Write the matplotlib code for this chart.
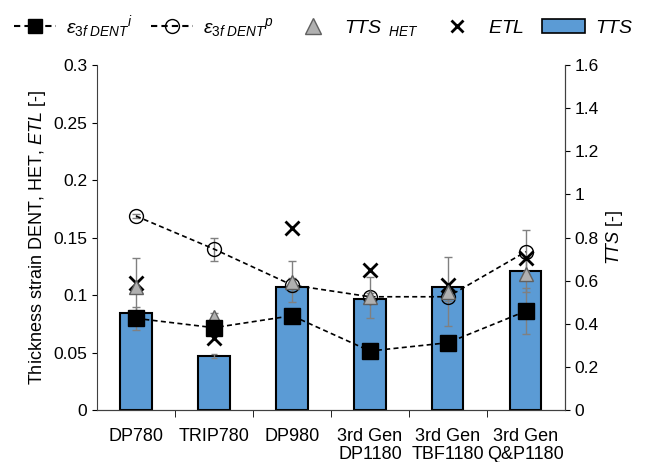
import numpy as np
import matplotlib
matplotlib.use("Agg")
import matplotlib.pyplot as plt
from matplotlib.ticker import FuncFormatter
from matplotlib.lines import Line2D
from matplotlib.patches import Patch

plt.rcParams['font.family'] = ['Liberation Sans', 'DejaVu Sans']
plt.rcParams['mathtext.fontset'] = 'custom'
plt.rcParams['mathtext.rm'] = 'Liberation Sans'
plt.rcParams['mathtext.it'] = 'Liberation Sans:italic'
plt.rcParams['font.size'] = 12.5

# data
materials = ['DP780', 'TRIP780', 'DP980', '3rd Gen\nDP1180', '3rd Gen\nTBF1180', '3rd Gen\nQ&P1180']
tts = [0.451, 0.250, 0.569, 0.515, 0.572, 0.645]
tts_err = [0.0, 0.010, 0.0, 0.0, 0.0, 0.0]
eps_i = [0.0797, 0.0716, 0.082, 0.0513, 0.0585, 0.086]
eps_i_err = [0.010, 0.004, 0.006, 0.002, 0.003, 0.020]
eps_p = [0.1687, 0.140, 0.1087, 0.0985, 0.0985, 0.1377]
eps_p_err = [0.002, 0.010, 0.006, 0.003, 0.004, 0.019]
tts_het = [0.107, 0.081, 0.1116, 0.098, 0.103, 0.118]
tts_het_err = [0.025, 0.003, 0.018, 0.018, 0.030, 0.015]
etl = [0.1107, 0.063, 0.158, 0.1217, 0.109, 0.132]

x = np.arange(len(materials))
ecol = '#808080'

fig = plt.figure(figsize=(6.47, 4.62), dpi=100)
ax = fig.add_axes([0.15, 0.1126, 0.723, 0.7464])
ax2 = ax.twinx()

# bars on right axis
ax2.bar(x, tts, width=0.4, color='#5b9bd5', edgecolor='black', linewidth=1.5,
        yerr=tts_err, error_kw=dict(ecolor=ecol, capsize=2, elinewidth=1), zorder=1)
ax2.set_ylim(0, 1.6)
ax2.set_yticks(np.arange(0, 1.61, 0.2))
ax2.set_ylabel('$TTS$ [-]', fontsize=13, labelpad=4)

ax.set_zorder(ax2.get_zorder() + 1)
ax.patch.set_visible(False)

ax.errorbar(x, eps_p, yerr=eps_p_err, fmt='o--', color='black', mfc='none', mec='black',
            ms=10, mew=1, lw=1.2, ecolor=ecol, capsize=3, elinewidth=1, dashes=(3, 2))
ax.errorbar(x, tts_het, yerr=tts_het_err, fmt='^', color='#b0b0b0', mec='#606060',
            ms=10, ecolor=ecol, capsize=3, elinewidth=1)
ax.plot(x, etl, 'x', color='black', ms=10, mew=2)
ax.errorbar(x, eps_i, yerr=eps_i_err, fmt='s--', color='black', ms=11, lw=1.2,
            ecolor=ecol, capsize=3, elinewidth=1, dashes=(3, 2))

ax.set_ylim(0, 0.3)
ax.set_xlim(-0.5, len(materials) - 0.5)
ax.set_yticks(np.arange(0, 0.301, 0.05))
ax.set_ylabel('Thickness strain DENT, HET, $ETL$ [-]', fontsize=13)
ax.set_xticks(x)
ax.set_xticklabels(materials, linespacing=1.1, fontsize=13)
ax.tick_params(axis='x', length=0, pad=13)
ax.set_xticks(np.arange(0.5, len(materials) - 1, 1), minor=True)
ax.tick_params(axis='x', which='minor', length=5, direction='out')

fmt = FuncFormatter(lambda v, p: f'{v:g}')
ax.yaxis.set_major_formatter(fmt)
ax2.yaxis.set_major_formatter(fmt)

for a in (ax, ax2):
    a.spines['top'].set_visible(False)
    for s in a.spines.values():
        s.set_color('#404040')
    a.tick_params(axis='y', colors='black', direction='out')
ax2.spines['left'].set_visible(False)

# legend
handles = [
    Line2D([], [], color='black', marker='s', ls='--', ms=10, dashes=(3, 2)),
    Line2D([], [], color='black', marker='o', mfc='none', ls='--', ms=10, dashes=(3, 2)),
    Line2D([], [], color='#b0b0b0', marker='^', mec='#606060', ls='none', ms=11),
    Line2D([], [], color='black', marker='x', ls='none', ms=9, mew=2),
    Patch(facecolor='#5b9bd5', edgecolor='black', linewidth=1.2),
]
labels = [r'$\varepsilon_{3f\ DENT}{}^{i}$', r'$\varepsilon_{3f\ DENT}{}^{p}$',
          r'$TTS_{\ \ HET}$', '$ETL$', '$TTS$']
fig.legend(handles, labels, loc='upper center', bbox_to_anchor=(0.5, 1.01), ncol=5,
           frameon=False, handlelength=2.2, columnspacing=0.9, handletextpad=0.5,
           fontsize=14)

fig.savefig('out.png', dpi=100)
